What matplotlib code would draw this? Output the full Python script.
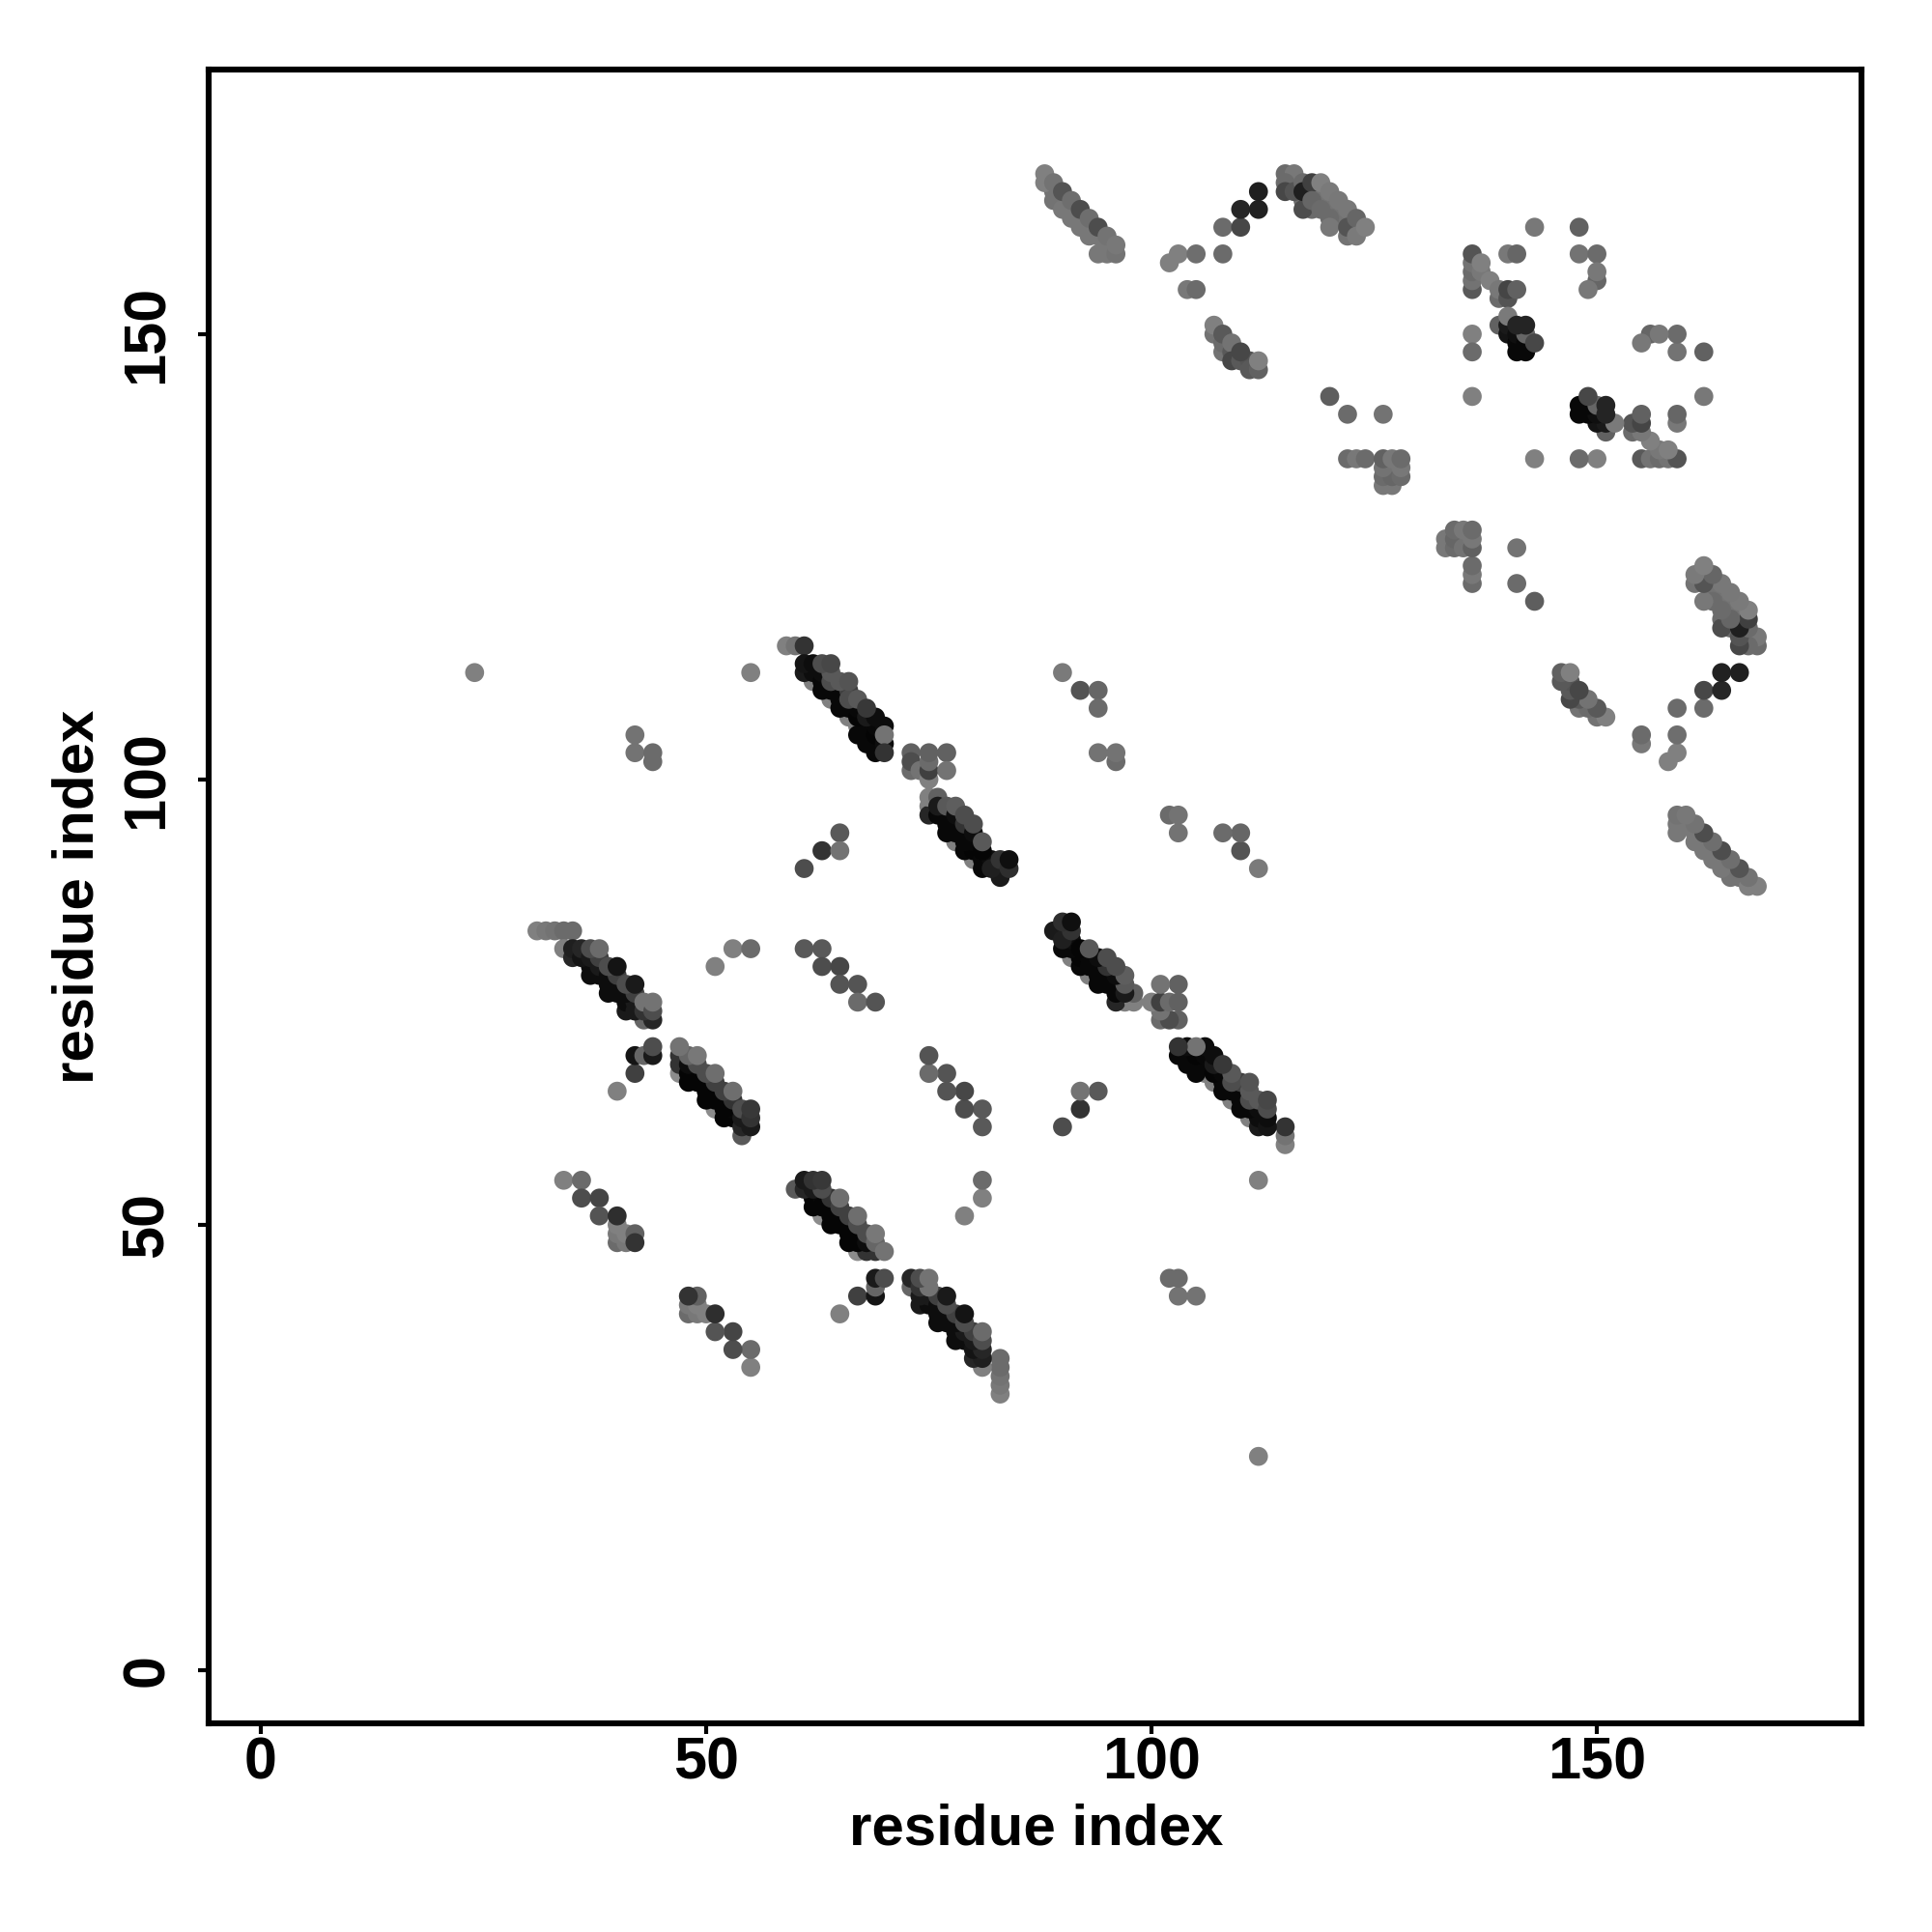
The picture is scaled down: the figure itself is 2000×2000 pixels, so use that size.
import matplotlib
matplotlib.use("Agg")
import matplotlib.pyplot as plt
import numpy as np

plt.rcParams['font.family'] = ['Liberation Sans', 'DejaVu Sans']

# Each contact: (residue i, residue j, grey level); the map is symmetric, so (j, i) is drawn too.
band_a = [(31,83,.5),(32,83,.47),(33,83,.45),(34,83,.42),(35,83,.42),(34,81,.5),
          (35,80,.15),(37,78,.05),(39,76,.05),(41,74,.1),
          (35,81,.12),(37,79,.05),(39,77,.05),(41,75,.05),(43,73,.4),
          (36,80,.08),(38,78,.05),(40,76,.05),(42,74,.1),
          (36,81,.15),(38,79,.1),(40,77,.05),(42,75,.1),(44,73,.15),
          (37,80,.1),(39,78,.05),(41,76,.05),(43,74,.2),
          (38,80,.25),(40,78,.25),(42,76,.25),
          (37,81,.3),(39,79,.3),(41,77,.3),(43,75,.45),(44,74,.3),
          (38,81,.42),(40,79,.08),(42,77,.1),(44,75,.45),
          (40,65,.5),(42,67,.25),(42,69,.08),(43,69,.4),(44,69,.1),(44,70,.3)]
band_b = [(47,67,.55),(51,63,.55),(54,60,.35),(48,66,.02),(50,64,.02),(52,62,.02),
          (47,68,.2),(49,66,.02),(51,64,.02),(53,62,.02),(54,61,.15),
          (47,69,.2),(49,67,.02),(51,65,.02),(53,63,.03),(55,61,.1),
          (48,67,.02),(50,65,.02),(52,63,.02),(54,62,.1),(48,68,.05),(50,66,.02),(52,64,.02),
          (49,68,.3),(51,66,.25),(53,64,.2),
          (48,69,.4),(50,67,.3),(52,65,.25),(54,63,.3),(55,62,.2),
          (47,70,.45),(49,69,.47),(51,67,.43),(53,65,.43),(55,63,.22)]
band_c = [(59,115,.5),(60,115,.45),(61,115,.2),
          (62,111,.5),(64,109,.5),(66,107,.5),(67,106,.5),
          (61,112,.1),(63,110,.03),(65,108,.03),(67,105,.03),(69,103,.03),
          (62,112,.05),(64,110,.03),(66,108,.03),(68,106,.03),(68,104,.03),(68,105,.03),(69,104,.03),
          (61,113,.08),(63,111,.03),(65,109,.03),(67,107,.02),(69,105,.02),(70,104,.05),
          (63,112,.05),(65,110,.03),(67,108,.03),(69,106,.03),(66,110,.25),
          (62,113,.05),(64,111,.3),(66,109,.3),(68,107,.1),
          (64,112,.35),(63,113,.3),(65,111,.35),(67,109,.35),(69,107,.05),(70,106,.05),
          (64,113,.28),(66,111,.33),(68,108,.22),(70,105,.45),(70,103,.2)]
band_d = [(73,103,.38),(73,101,.42),(73,102,.3),(74,101,.45),(75,100,.5),(75,101,.25),
          (75,102,.42),(75,103,.38),(77,103,.38),(77,101,.45),
          (75,97,.5),(75,96,.15),(75,98,.5),(76,98,.38),(78,93,.5),(80,91,.5),
          (77,94,.03),(79,92,.03),(81,90,.03),(76,96,.03),(78,94,.03),(80,92,.02),
          (76,97,.1),(77,95,.03),(78,95,.03),(79,93,.03),(80,93,.03),(81,91,.03),(82,91,.05),
          (77,97,.35),(78,96,.05),(79,94,.03),(81,92,.02),(79,95,.2),
          (78,97,.37),(79,96,.3),(80,94,.05),(80,95,.3),(81,93,.35),
          (83,89,.1),(82,90,.12),(83,91,.2),(84,90,.18),(84,91,.06)]
sparse_low = [(24,112,.5),(55,112,.5),(42,105,.45),(42,103,.45),(44,102,.42),(44,103,.42),
              (90,112,.48),(92,110,.33),(94,110,.4),(94,108,.42),(94,103,.45),(96,102,.42),(96,103,.45),
              (65,94,.35),(63,92,.2),(65,92,.45),(61,90,.3),
              (61,81,.35),(63,81,.35),(63,79,.3),(65,79,.28),(65,77,.33),(67,77,.33),(67,75,.42),(69,75,.33),
              (53,81,.5),(55,81,.42),(51,79,.5),
              (34,55,.5),(36,55,.42),(36,53,.3),(38,53,.27),(38,51,.33),
              (40,48,.42),(40,49,.47),(40,50,.5),(41,48,.47),(41,49,.5),(42,49,.38),(42,48,.2),(40,51,.18)]
band_f = [(89,166,.45),(90,165,.45),(91,164,.47),(92,163,.47),(93,162,.47),(94,161,.47),(95,160,.47),(95,159,.47),
          (88,167,.5),(88,168,.5),(89,167,.45),(89,165,.45),(90,164,.47),(90,166,.33),(91,163,.47),
          (91,165,.43),(92,162,.47),(92,164,.3),(93,161,.47),(93,163,.43),(94,159,.47),(94,162,.3),
          (95,161,.45),(96,159,.45),(96,160,.47)]
arc_g = [(102,158,.5),(103,159,.5),(105,159,.43),(108,159,.42),(104,155,.47),(105,155,.42),
         (108,162,.42),(110,162,.28),(110,164,.15),(112,164,.13),(112,166,.12)]
band_h = [(107,150,.45),(107,151,.5),(108,148,.45),(108,149,.42),(108,150,.35),(109,148,.35),(109,149,.45),
          (109,147,.28),(110,147,.35),(111,147,.33),(110,148,.28),(111,146,.35),(112,146,.38),(112,147,.5)]
band_i = [(116,167,.42),(117,165,.42),(118,164,.42),(118,166,.4),(119,165,.43),(120,164,.45),(121,164,.43),
          (121,163,.45),(122,163,.45),(123,162,.42),(122,161,.45),(119,166,.45),(120,165,.45),
          (115,168,.42),(116,168,.47),(115,167,.42),(115,166,.28),(116,166,.33),(117,167,.42),
          (117,164,.3),(117,166,.12),(118,167,.25),(118,165,.4),(119,164,.42),(120,163,.42),
          (120,162,.47),(119,167,.5),(120,166,.48),(121,165,.47),(122,164,.47),(122,162,.33),
          (123,163,.4),(123,161,.48),(124,162,.5)]
cluster_126 = [(120,143,.37),(122,141,.42),(126,141,.45),(122,136,.42),(123,136,.47),(124,136,.42),
               (126,133,.47),(127,133,.47),(126,134,.42),(127,134,.4),(128,134,.42),(126,135,.45),
               (128,135,.47),(126,136,.38),(127,136,.47),(128,136,.42)]
cluster_136 = [(136,150,.5),(136,148,.42),(136,143,.5),(136,155,.35),(136,156,.45),(136,157,.42),
               (136,158,.45),(136,159,.33),(137,157,.47),(137,158,.5),(138,156,.5),(139,154,.42),
               (139,155,.47),(140,154,.33),(140,155,.27),(141,155,.38),(140,159,.47),(141,159,.4),
               (143,162,.47),(148,162,.38),(148,159,.45),(150,159,.42),(150,156,.4),(150,157,.47),(149,155,.47)]
cluster_black = [(139,151,.38),(140,150,.08),(140,151,.1),(141,148,.03),(142,148,.03),(141,149,.03),(141,150,.06),
                 (142,149,.03),(142,150,.4),(143,149,.28),(140,152,.48),(141,151,.14),(142,151,.14)]

groups = [band_a, band_b, band_c, band_d, sparse_low, band_f, arc_g, band_h, band_i,
          cluster_126, cluster_136, cluster_black]
axis_ticks = [0, 50, 100, 150]
axis_title = "residue index"

contacts = np.array([c for g in groups for c in g], dtype=float)
res_i = np.concatenate([contacts[:, 0], contacts[:, 1]])
res_j = np.concatenate([contacts[:, 1], contacts[:, 0]])
grey = np.concatenate([contacts[:, 2], contacts[:, 2]])

fig = plt.figure(figsize=(10, 10), dpi=200, facecolor='white')
W = 2000.0
ax = fig.add_axes([216/W, 1 - 1784/W, (1927-216)/W, (1784-72)/W])
ax.scatter(res_i, res_j, c=[(g, g, g) for g in grey], s=50, linewidths=0, zorder=3)
ax.set_xlim(-5.86, 179.7)
ax.set_ylim(-5.97, 179.7)
ax.set_xticks(axis_ticks)
ax.set_yticks(axis_ticks)
for s in ax.spines.values():
    s.set_linewidth(2.2)
ax.tick_params(axis='both', length=3.8, width=1.5, labelsize=22, pad=1)
for t in ax.get_xticklabels():
    t.set_fontweight('bold')
for t in ax.get_yticklabels():
    t.set_fontweight('bold')
    t.set_rotation(90)
    t.set_va('center')
ax.tick_params(axis='y', pad=8.5)
ax.set_xlabel(axis_title, fontsize=21.6, fontweight='bold', va='center')
ax.set_ylabel(axis_title, fontsize=21.6, fontweight='bold', va='center')
ax.xaxis.set_label_coords(1073/W, 1 - 1894/W, transform=fig.transFigure)
ax.yaxis.set_label_coords(81/W, 1 - 928/W, transform=fig.transFigure)
fig.savefig("out.png", dpi=200, facecolor='white')
